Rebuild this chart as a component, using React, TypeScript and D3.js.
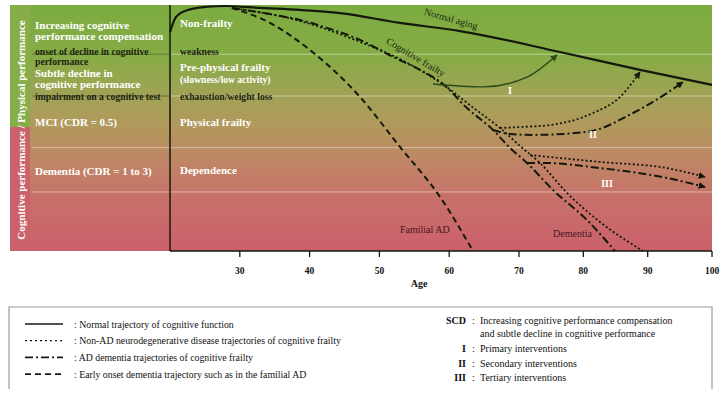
import React from "react";
import * as d3 from "d3";

type Pt = [number, number];

// age ticks on the x axis
const ageTicks = [30, 40, 50, 60, 70, 80, 90, 100];

// trajectories as [age, performance] pairs
const normalAging: Pt[] = [
  [20, 89.0], [20.86, 95.1], [22.58, 98.0], [25.01, 99.2], [27.88, 99.6],
  [32.89, 98.8], [38.62, 98.0], [44.36, 96.7], [52.95, 92.7], [61.55, 89.4],
  [76.37, 80.9], [88.81, 73.6], [100, 67.5],
];
const adTrunk: Pt[] = [
  [28.88, 98.8], [34.33, 96.3], [38.62, 93.9], [42.49, 90.7], [47.22, 85.8],
  [51.95, 78.9], [55.82, 73.6], [59.11, 67.9], [62.55, 58.1], [66.28, 49.2],
  [68.71, 41.9], [71.24, 35.8], [75.29, 24.8], [80.57, 12.6], [84.92, 0],
];
const nonAdTrunk: Pt[] = [
  [28.88, 98.8], [38.62, 93.5], [47.22, 85.0], [52.95, 78.0], [59.4, 67.1],
  [63.7, 57.7], [67.28, 50.0], [70.15, 42.7], [73.26, 35.8], [77.46, 23.6],
  [82.59, 11.8], [89.28, 0],
];
const familialAD: Pt[] = [
  [28.88, 98.8], [34.33, 92.7], [40.06, 81.7], [47.22, 62.6], [52.95, 42.3],
  [58.68, 22.0], [63.41, 0],
];
const primaryI: Pt[] = [[57.68, 67.9], [64.84, 66.7], [71.24, 70.7], [75.91, 79.7]];
const secondaryNonAD: Pt[] = [[67.28, 50.0], [70.15, 50.4], [74.82, 51.2], [81.5, 56.1], [85.7, 62.6], [88.81, 72.8]];
const secondaryAD: Pt[] = [[66.28, 49.2], [68.71, 47.6], [72.18, 47.2], [80.57, 48.4], [87.72, 56.1], [93.0, 64.2], [95.49, 68.7]];
const tertiaryNonAD: Pt[] = [[71.71, 39.0], [82.59, 36.2], [93.0, 33.7], [98.91, 30.1]];
const tertiaryAD: Pt[] = [[71.24, 35.8], [73.73, 35.8], [82.59, 33.7], [93.0, 29.7], [98.91, 26.0]];

// band boundaries (performance units)
const bandLines = [80, 63, 42, 24];

const legendLeft = [
  { dash: "none", label: ": Normal trajectory of cognitive function" },
  { dash: "2 3", label: ": Non-AD neurodegenerative disease trajectories of cognitive frailty" },
  { dash: "8 3 2 3", label: ": AD dementia trajectories of cognitive frailty" },
  { dash: "6 4", label: ": Early onset dementia trajectory such as in the familial AD" },
];
const legendRight = [
  { key: "SCD", label: "Increasing cognitive performance compensation" },
  { key: "", label: "and subtle decline in cognitive performance" },
  { key: "I", label: "Primary interventions" },
  { key: "II", label: "Secondary interventions" },
  { key: "III", label: "Tertiary interventions" },
];

const FONT = "'Liberation Serif', 'DejaVu Serif', serif";
const INK = "#15190c";

export default function App() {
  const x = d3.scaleLinear().domain([20, 70, 100]).range([170, 519, 712]);
  const y = d3.scaleLinear().domain([0, 100]).range([251, 5]);
  const line = d3.line<Pt>().x(d => x(d[0])).y(d => y(d[1])).curve(d3.curveMonotoneX);

  const white = { fill: "#fff", fontWeight: 700, fontSize: 11 } as const;
  const dark = { fill: "#1c2410", fontWeight: 700, fontSize: 9.7 } as const;

  return (
    <svg width={727} height={397} style={{ position: "absolute", left: 0, top: 0, fontFamily: FONT }}>
      <defs>
        <linearGradient id="bg" gradientUnits="userSpaceOnUse" x1={0} y1={5} x2={0} y2={251}>
          <stop offset="0" stopColor="#7cac41" />
          <stop offset="0.2" stopColor="#85ac45" />
          <stop offset="0.38" stopColor="#a3a257" />
          <stop offset="0.5" stopColor="#b2985d" />
          <stop offset="0.65" stopColor="#c08466" />
          <stop offset="0.8" stopColor="#c86f6a" />
          <stop offset="1" stopColor="#cb616b" />
        </linearGradient>
        <marker id="arrDark" viewBox="0 0 10 10" refX="9" refY="5" markerWidth="7" markerHeight="7" orient="auto" markerUnits="userSpaceOnUse">
          <path d="M0,0 L10,5 L0,10 Z" fill={INK} />
        </marker>
        <marker id="arrGreen" viewBox="0 0 10 10" refX="9" refY="5" markerWidth="7" markerHeight="7" orient="auto" markerUnits="userSpaceOnUse">
          <path d="M0,0 L10,5 L0,10 Z" fill="#2a4a18" />
        </marker>
      </defs>

      {/* backgrounds */}
      <rect x={30} y={5} width={682} height={246} fill="url(#bg)" />
      <rect x={10} y={5} width={20} height={122} fill="#86ad4a" />
      <rect x={10} y={127} width={20} height={124} fill="#c9626b" />
      <text transform="translate(24.5,130) rotate(-90)" textAnchor="middle" fill="#fff" fontWeight={700} fontSize={11}>
        Cognitive performance / Physical performance
      </text>

      {/* band lines */}
      {bandLines.map((b, i) => (
        <g key={b}>
          <line x1={32} x2={170} y1={y(b)} y2={y(b)} stroke={i < 2 ? "#3e4a2c" : "#f4dcc8"} strokeOpacity={i < 2 ? 0.55 : 0.6} strokeWidth={1} />
          <line x1={170} x2={712} y1={y(b)} y2={y(b)} stroke="#fff" strokeOpacity={0.45} strokeWidth={1} />
        </g>
      ))}

      {/* left panel texts */}
      <g>
        <text x={35} y={29} {...white}>Increasing cognitive</text>
        <text x={35} y={40} {...white}>performance compensation</text>
        <text x={35} y={55} {...dark}>onset of decline in cognitive</text>
        <text x={35} y={65} {...dark}>performance</text>
        <text x={35} y={76.5} {...white}>Subtle decline in</text>
        <text x={35} y={87.5} {...white}>cognitive performance</text>
        <text x={35} y={99.5} {...dark}>impairment on a cognitive test</text>
        <text x={35} y={126} {...white}>MCI (CDR = 0.5)</text>
        <text x={35} y={175} {...white}>Dementia (CDR = 1 to 3)</text>
      </g>
      {/* physical stage texts */}
      <g>
        <text x={180} y={27} {...white}>Non-frailty</text>
        <text x={180} y={55} {...dark}>weakness</text>
        <text x={180} y={71} {...white}>Pre-physical frailty</text>
        <text x={180} y={82.5} {...white} fontSize={9.5}>(slowness/low activity)</text>
        <text x={180} y={99.5} {...dark}>exhaustion/weight loss</text>
        <text x={180} y={126} {...white}>Physical frailty</text>
        <text x={180} y={174} {...white}>Dependence</text>
      </g>

      {/* trajectories */}
      <g fill="none" stroke={INK}>
        <path d={line(familialAD) || ""} strokeWidth={2} strokeDasharray="6 4" />
        <path d={line(nonAdTrunk) || ""} strokeWidth={1.8} strokeDasharray="2 2.3" />
        <path d={line(adTrunk) || ""} strokeWidth={2} strokeDasharray="8 3 2 3" />
        <path d={line(normalAging) || ""} strokeWidth={2.2} />
        <path d={line(primaryI) || ""} strokeWidth={1.4} stroke="#2a4a18" markerEnd="url(#arrGreen)" />
        <path d={line(secondaryNonAD) || ""} strokeWidth={1.8} strokeDasharray="2 2.3" markerEnd="url(#arrDark)" />
        <path d={line(secondaryAD) || ""} strokeWidth={2} strokeDasharray="8 3 2 3" markerEnd="url(#arrDark)" />
        <path d={line(tertiaryNonAD) || ""} strokeWidth={1.8} strokeDasharray="2 2.3" markerEnd="url(#arrDark)" />
        <path d={line(tertiaryAD) || ""} strokeWidth={2} strokeDasharray="8 3 2 3" markerEnd="url(#arrDark)" />
      </g>

      {/* curve labels */}
      <text transform="translate(450,22) rotate(16)" textAnchor="middle" fontSize={10} fill="#1a2a0c">Normal aging</text>
      <text transform="translate(414,60) rotate(31)" textAnchor="middle" fontSize={10} fill="#1a2a0c">Cognitive frailty</text>
      <text x={400} y={233} fontSize={10} fill="#4a1626">Familial AD</text>
      <text x={553} y={237} fontSize={10} fill="#4a1626">Dementia</text>
      <text x={510} y={94} textAnchor="middle" fill="#fff" fontWeight={700} fontSize={10}>I</text>
      <text x={593} y={138} textAnchor="middle" fill="#fff" fontWeight={700} fontSize={10}>II</text>
      <text x={607} y={187} textAnchor="middle" fill="#fff" fontWeight={700} fontSize={10}>III</text>

      {/* frame and axis */}
      <line x1={170} x2={170} y1={5} y2={251} stroke={INK} strokeWidth={1.5} />
      <line x1={170} x2={712} y1={251} y2={251} stroke={INK} strokeWidth={1.5} />
      {ageTicks.map(t => (
        <g key={t} transform={`translate(${x(t)},251)`}>
          <line y1={0} y2={6} stroke={INK} strokeWidth={1.3} />
          <text y={23} textAnchor="middle" fontSize={9.5} fontWeight={700} fill="#111">{t}</text>
        </g>
      ))}
      <text x={419} y={287} textAnchor="middle" fontSize={10} fontWeight={700} fill="#111">Age</text>

      {/* legend box */}
      <path d="M9,389 V307 H712 V389" fill="none" stroke="#9a9a9a" strokeWidth={1.2} />
      {legendLeft.map((d, i) => (
        <g key={i} transform={`translate(0,${324 + i * 16.7})`}>
          <line x1={25} x2={63} y1={0} y2={0} stroke={INK} strokeWidth={d.dash === "2 3" ? 1.3 : 1.6} strokeDasharray={d.dash} />
          <text x={74} y={3.5} fontSize={9.8} fill="#111">{d.label}</text>
        </g>
      ))}
      {legendRight.map((d, i) => {
        const yy = [320, 333, 348, 363, 377][i];
        return (
          <g key={i}>
            {d.key && <text x={466} y={yy + 3.5} textAnchor="end" fontSize={10} fontWeight={700} fill="#111">{d.key}</text>}
            {d.key && <text x={472} y={yy + 3.5} fontSize={10} fill="#111">:</text>}
            <text x={480} y={yy + 3.5} fontSize={10} fill="#111">{d.label}</text>
          </g>
        );
      })}
    </svg>
  );
}
